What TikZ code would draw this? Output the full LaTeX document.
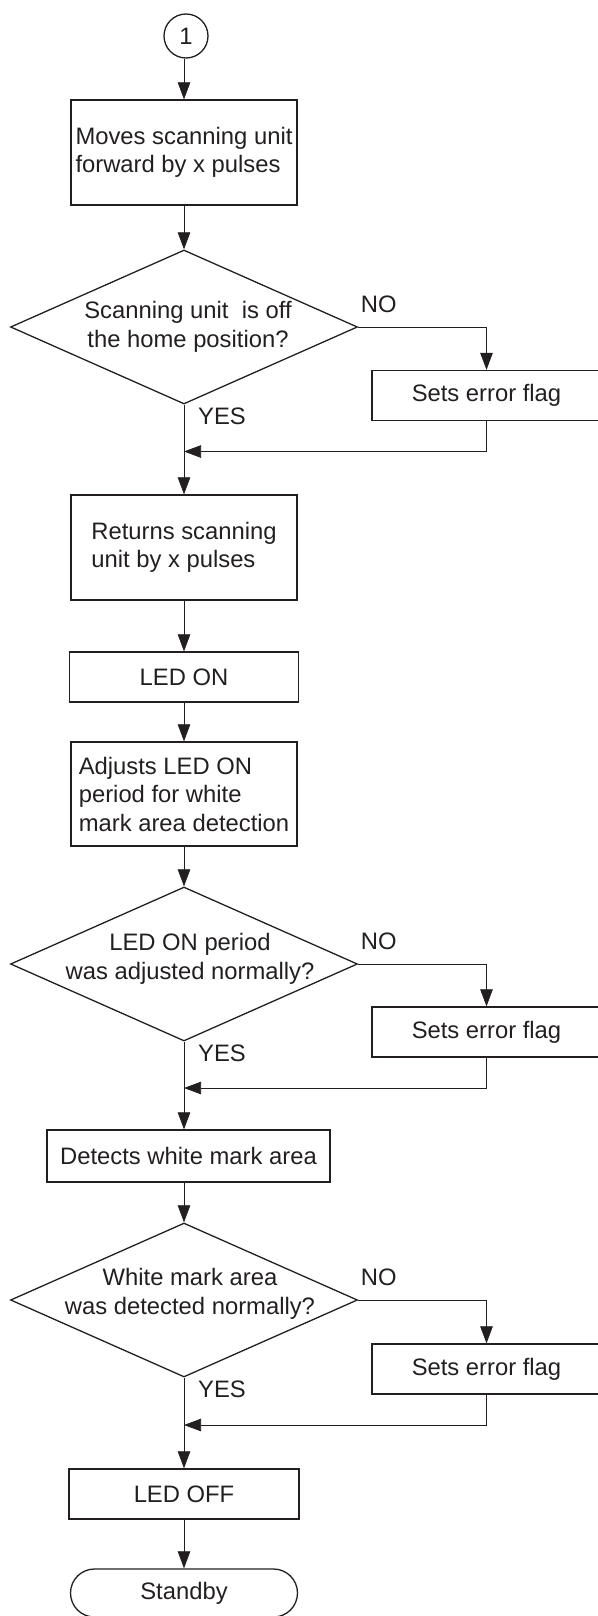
\documentclass[tikz,border=0pt]{standalone}
\usepackage{fontspec}
\setmainfont{Liberation Sans}
\usetikzlibrary{shapes.geometric,arrows.meta}
\definecolor{ink}{RGB}{35,31,32}
\tikzset{
  txt/.style={font=\fontsize{23.8}{28.5}\selectfont, text=ink},
  proc/.style={txt, draw=ink, line width=1.3pt, minimum width=226pt,
    minimum height=105pt, inner sep=0pt, align=left},
  errbox/.style={proc, minimum width=229pt, minimum height=50pt},
  decision/.style={draw=ink, line width=1.3pt, diamond, minimum width=347pt,
    minimum height=154pt, inner sep=0pt},
  dtext/.style={txt, align=center, inner sep=0pt},
  flow/.style={draw=ink, line width=.7pt, -{Triangle[length=17pt,width=12.5pt]}},
  yn/.style={txt, inner sep=0pt},
}
\begin{document}
\begin{tikzpicture}[x=1pt,y=-1pt]
\useasboundingbox (0,0) rectangle (597,1616);
\node[txt, circle, draw=ink, line width=1.3pt, minimum size=44pt, inner sep=0pt] (c1) at (186,36) {1};
\node[proc] (b1) at (184,152.5) {Moves scanning unit\\forward by x pulses};
\node[decision, label={[dtext,xshift=4pt]center:{Scanning unit\ \ is off\\the home position?}}]
  (d1) at (184,327) {};
\node[proc] (b2) at (184,547.5) {Returns scanning\\unit by x pulses};
\node[proc, minimum width=229pt, minimum height=50pt] (ledon) at (184,677) {LED ON};
\node[proc, minimum height=104pt] (adj) at (184,794) {Adjusts LED ON\\period for white\\mark area detection};
\node[decision, label={[dtext,xshift=6pt,yshift=5pt]center:{LED ON period\\was adjusted normally?}}]
  (d2) at (184,964) {};
\node[proc, minimum width=283pt, minimum height=52pt] (det) at (188.5,1156) {Detects white mark area};
\node[decision, label={[dtext,xshift=6pt,yshift=6pt]center:{White mark area\\was detected normally?}}]
  (d3) at (184,1300) {};
\node[proc, minimum width=230pt, minimum height=50pt] (ledoff) at (184,1494) {LED OFF};
\node[proc, rounded corners=24pt, minimum width=227pt, minimum height=48pt] (stby) at (184,1593) {Standby};
%
% error branches
\foreach \d/\e/\y in {d1/e1/395.5, d2/e2/1032, d3/e3/1369}{
  \node[errbox] (\e) at (486.5,\y) {Sets error flag};
  \coordinate (m\e) at (184,\y+56);
  \draw[flow] (\d.east) -| (\e);
  \draw[flow] (\e) |- (m\e);
  \node[yn, anchor=south west] at ([shift={(2.5,-14)}]\d.east) {NO};
  \node[yn, anchor=north west] at ([shift={(14,3)}]\d.south) {YES};
}
%
\draw[flow] (c1.south -| b1.north) -- (b1);
\draw[flow] (b1) -- (d1);
\draw[flow] (d1) -- (b2);
\draw[flow] (b2) -- (ledon);
\draw[flow] (ledon) -- (adj);
\draw[flow] (adj) -- (d2);
\draw[flow] (d2) -- (d2 |- det.north);
\draw[flow] (det.south -| d3) -- (d3);
\draw[flow] (d3) -- (ledoff);
\draw[flow] (ledoff) -- (stby);
\end{tikzpicture}
\end{document}
